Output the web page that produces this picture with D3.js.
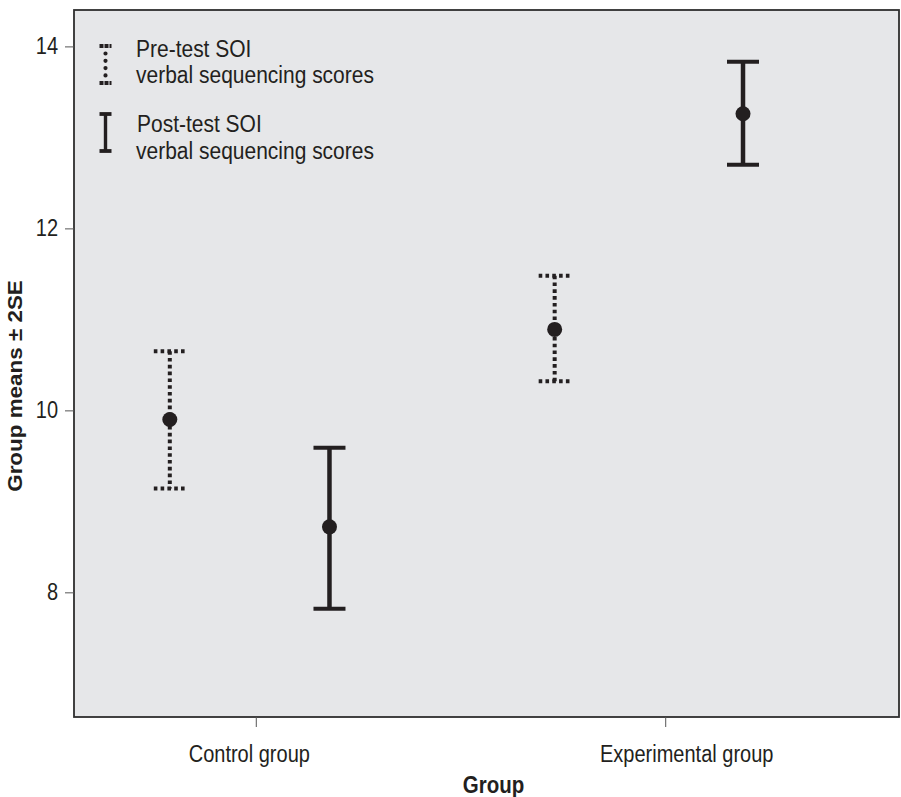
<!DOCTYPE html>
<html>
<head>
<meta charset="utf-8">
<title>Group means ± 2SE</title>
<script src="https://cdn.jsdelivr.net/npm/d3@7"></script>
<style>
  body { margin: 0; background: #fff; }
  text { font-family: "Liberation Sans", Arial, Helvetica, sans-serif; fill: #231f20; }
</style>
</head>
<body>
<div id="chart"></div>
<script>
// group labels on the x axis
var groups = ["Control group", "Experimental group"];
// horizontal place of each error bar, in group units (1 = control, 2 = experimental)
var preX  = [0.79, 1.73];
var postX = [1.18, 2.19];
// means and +-2SE limits
var preMean  = [9.90, 10.89];
var preLow   = [9.14, 10.32];
var preHigh  = [10.65, 11.48];
var postMean = [8.72, 13.26];
var postLow  = [7.82, 12.70];
var postHigh = [9.59, 13.83];
var yTicks = [8, 10, 12, 14];
var legendLabels = [["Pre-test SOI", "verbal sequencing scores"],
                    ["Post-test SOI", "verbal sequencing scores"]];

var width = 901, height = 797;
var margin = {top: 10, right: 2, bottom: 80, left: 74};
var ink = "#231f20";
var stretch = 1.15;   // the original type is a bit taller than it is wide

var svg = d3.select("#chart").append("svg")
    .attr("width", width)
    .attr("height", height);

var x = d3.scaleLinear()
    .domain([0.556, 2.571])
    .range([margin.left, width - margin.right]);

var y = d3.scaleLinear()
    .domain([6.63, 14.4])
    .range([height - margin.bottom, margin.top]);

// plot background + frame
svg.append("rect")
    .attr("x", margin.left)
    .attr("y", margin.top)
    .attr("width", width - margin.right - margin.left)
    .attr("height", height - margin.bottom - margin.top)
    .attr("fill", "#e6e7e9")
    .attr("stroke", "#2e2e2e")
    .attr("stroke-width", 1.8);

// y axis
var yAxis = svg.append("g")
    .attr("transform", "translate(" + margin.left + ",0)")
    .call(d3.axisLeft(y).tickValues(yTicks).tickSize(9).tickPadding(7));
yAxis.select(".domain").remove();
yAxis.selectAll("line").attr("stroke", "#555");
yAxis.selectAll("text")
    .attr("font-size", 20)
    .attr("font-family", "Liberation Sans, Arial, sans-serif")
    .attr("fill", ink)
    .attr("dy", "0.32em")
    .attr("transform", "scale(1," + stretch + ")");

// x axis
var labelShift = [-7, 21];
var xAxis = svg.append("g")
    .attr("transform", "translate(0," + (height - margin.bottom) + ")")
    .call(d3.axisBottom(x).tickValues([1, 2])
        .tickFormat(function(d) { return groups[d - 1]; })
        .tickSize(10));
xAxis.select(".domain").remove();
xAxis.selectAll("line").attr("stroke", "#555");
xAxis.selectAll("text")
    .attr("font-size", 20)
    .attr("font-family", "Liberation Sans, Arial, sans-serif")
    .attr("fill", ink)
    .attr("x", function(d) { return labelShift[d - 1]; })
    .attr("y", 45 / stretch)
    .attr("dy", 0)
    .attr("transform", "scale(1," + stretch + ")");

// axis titles
svg.append("text")
    .attr("transform", "translate(" + (x(1.5) + 33) + ",793) scale(1," + stretch + ")")
    .attr("text-anchor", "middle")
    .attr("font-size", 20.5)
    .attr("font-weight", "bold")
    .text("Group");

svg.append("text")
    .attr("transform", "translate(22,386) rotate(-90) scale(" + stretch + ",1)")
    .attr("text-anchor", "middle")
    .attr("font-size", 19.5)
    .attr("font-weight", "bold")
    .text("Group means \u00b1 2SE");

// error bars
function errorBars(xs, means, lows, highs, dotted) {
    var data = xs.map(function(v, i) {
        return {x: v, m: means[i], lo: lows[i], hi: highs[i]};
    });
    var g = svg.append("g").selectAll("g").data(data).enter().append("g");
    var dash = dotted ? "3.6,3.2" : null;
    g.append("line")
        .attr("x1", function(d) { return x(d.x); })
        .attr("x2", function(d) { return x(d.x); })
        .attr("y1", function(d) { return y(d.hi); })
        .attr("y2", function(d) { return y(d.lo); })
        .attr("stroke", ink).attr("stroke-width", dotted ? 4 : 4.5)
        .attr("stroke-dasharray", dash);
    ["hi", "lo"].forEach(function(k) {
        g.append("line")
            .attr("x1", function(d) { return x(d.x) - 16; })
            .attr("x2", function(d) { return x(d.x) + 16; })
            .attr("y1", function(d) { return y(d[k]); })
            .attr("y2", function(d) { return y(d[k]); })
            .attr("stroke", ink).attr("stroke-width", 4)
            .attr("stroke-dasharray", dash);
    });
    g.append("circle")
        .attr("cx", function(d) { return x(d.x); })
        .attr("cy", function(d) { return y(d.m); })
        .attr("r", 7.5)
        .attr("fill", ink);
}
errorBars(preX, preMean, preLow, preHigh, true);
errorBars(postX, postMean, postLow, postHigh, false);

// legend
var legend = svg.append("g");
legendLabels.forEach(function(lbl, i) {
    var top = i ? 114 : 46, bot = i ? 151 : 83, cx = 105.5;
    var item = legend.append("g");
    if (i === 0) {
        // round dots between the two caps
        item.append("line").attr("x1", cx).attr("x2", cx).attr("y1", top + 7.5).attr("y2", bot - 6)
            .attr("stroke", ink).attr("stroke-width", 4.2)
            .attr("stroke-linecap", "round").attr("stroke-dasharray", "0,7.3");
    } else {
        item.append("line").attr("x1", cx).attr("x2", cx).attr("y1", top).attr("y2", bot)
            .attr("stroke", ink).attr("stroke-width", 3.4);
    }
    [top, bot].forEach(function(yy) {
        item.append("line").attr("x1", cx - 6).attr("x2", cx + 6).attr("y1", yy).attr("y2", yy)
            .attr("stroke", ink).attr("stroke-width", 3.8)
            .attr("stroke-dasharray", i === 0 ? "4,1" : null);
    });
    var base1 = i ? 132 : 57, base2 = i ? 159 : 83;
    item.append("text")
        .attr("transform", "translate(" + (136 + i) + "," + base1 + ") scale(1," + stretch + ")")
        .attr("font-size", 21).text(lbl[0]);
    item.append("text")
        .attr("transform", "translate(136," + base2 + ") scale(1," + stretch + ")")
        .attr("font-size", 21).text(lbl[1]);
});
</script>
</body>
</html>
